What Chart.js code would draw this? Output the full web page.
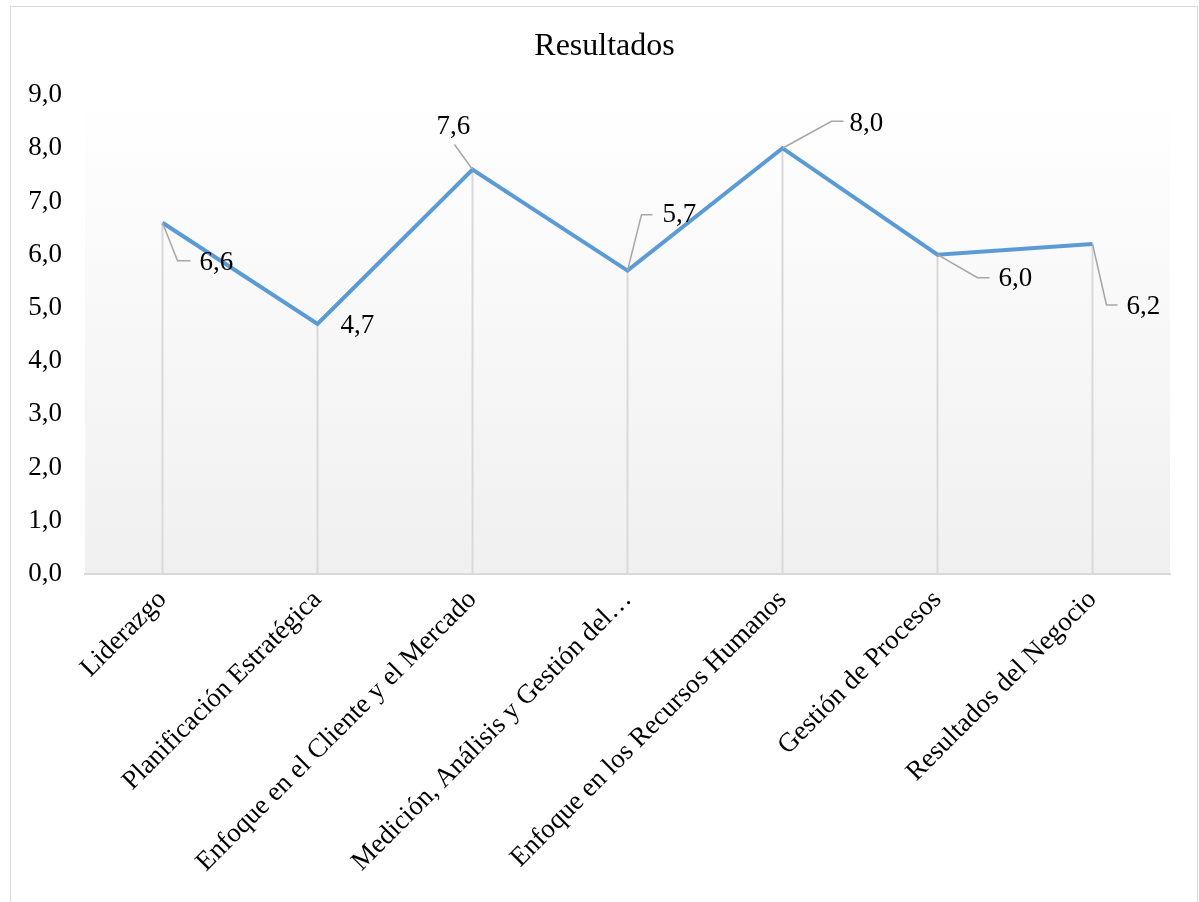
<!DOCTYPE html>
<html>
<head>
<meta charset="utf-8">
<title>Resultados</title>
<script src="https://cdn.jsdelivr.net/npm/chart.js@4.4.0/dist/chart.umd.min.js"></script>
<style>
    html, body { margin: 0; padding: 0; background: #fff; }
    #wrap { width: 1199px; height: 902px; position: relative; }
</style>
</head>
<body>
<div id="wrap"><canvas id="chart" width="1199" height="902"></canvas></div>
<script>
// --- data ---
const categories = [
    'Liderazgo',
    'Planificación Estratégica',
    'Enfoque en el Cliente y el Mercado',
    'Medición, Análisis y Gestión del…',
    'Enfoque en los Recursos Humanos',
    'Gestión de Procesos',
    'Resultados del Negocio'
];
const scores = [6.6, 4.7, 7.6, 5.7, 8.0, 6.0, 6.2];
const scoreLabels = ['6,6', '4,7', '7,6', '5,7', '8,0', '6,0', '6,2'];
const yTickLabels = ['0,0', '1,0', '2,0', '3,0', '4,0', '5,0', '6,0', '7,0', '8,0', '9,0'];

// where each data label sits, relative to its point (label = left/middle of text, leader = polyline)
const labelPlacement = [
    { label: [37, 40],  leader: [[15, 38], [28, 38]] },
    { label: [23, 2],   leader: [] },
    { label: [-36, -43], leader: [[-18, -25]] },
    { label: [35, -56], leader: [[14, -56], [25, -56]] },
    { label: [67, -24], leader: [[49, -27], [61, -27]] },
    { label: [61, 24],  leader: [[40, 23], [52, 23]] },
    { label: [34, 63],  leader: [[14, 61], [25, 61]] }
];

const SERIF = "'Liberation Serif', 'Times New Roman', serif";
const CHART_BOTTOM = 574;

// outer frame + gradient plot background
const backdrop = {
    id: 'backdrop',
    beforeDraw(chart) {
        const { ctx, chartArea: a } = chart;
        ctx.save();
        ctx.strokeStyle = '#d9d9d9';
        ctx.lineWidth = 1;
        ctx.strokeRect(10.5, 6.5, 1187, 910);
        const g = ctx.createLinearGradient(0, a.top, 0, a.bottom);
        g.addColorStop(0, '#ffffff');
        g.addColorStop(1, '#f0f0f0');
        ctx.fillStyle = g;
        ctx.fillRect(a.left, a.top, a.right - a.left, a.bottom - a.top);
        ctx.restore();
    }
};

// vertical drop lines from each point to the axis
const dropLines = {
    id: 'dropLines',
    beforeDatasetsDraw(chart) {
        const { ctx } = chart;
        const base = chart.scales.y.getPixelForValue(0);
        ctx.save();
        ctx.strokeStyle = '#d9d9d9';
        ctx.lineWidth = 2;
        chart.getDatasetMeta(0).data.forEach(p => {
            ctx.beginPath();
            ctx.moveTo(p.x, p.y);
            ctx.lineTo(p.x, base);
            ctx.stroke();
        });
        ctx.restore();
    }
};

// value labels with leader lines
const valueLabels = {
    id: 'valueLabels',
    afterDatasetsDraw(chart) {
        const { ctx } = chart;
        ctx.save();
        chart.getDatasetMeta(0).data.forEach((p, i) => {
            const pl = labelPlacement[i];
            if (pl.leader.length) {
                ctx.strokeStyle = '#a6a6a6';
                ctx.lineWidth = 1.5;
                ctx.beginPath();
                ctx.moveTo(p.x, p.y);
                pl.leader.forEach(([dx, dy]) => ctx.lineTo(p.x + dx, p.y + dy));
                ctx.stroke();
            }
            ctx.fillStyle = '#000';
            ctx.font = '27px ' + SERIF;
            ctx.textAlign = 'left';
            ctx.textBaseline = 'middle';
            ctx.fillText(scoreLabels[i], p.x + pl.label[0], p.y + pl.label[1]);
        });
        ctx.restore();
    }
};

new Chart(document.getElementById('chart'), {
    type: 'line',
    data: {
        labels: categories,
        datasets: [{
            data: scores,
            borderColor: '#5b9bd5',
            borderWidth: 4,
            pointRadius: 0,
            tension: 0,
            fill: false
        }]
    },
    options: {
        responsive: false,
        animation: false,
        devicePixelRatio: 1,
        layout: { padding: { left: 10, right: 0, top: 0, bottom: 0 } },
        plugins: {
            legend: { display: false },
            tooltip: { enabled: false },
            title: {
                display: true,
                text: 'Resultados',
                color: '#000',
                font: { family: SERIF, size: 32, weight: 'normal', lineHeight: 1.2 },
                padding: { top: 27, bottom: 29.6 }
            }
        },
        scales: {
            x: {
                offset: true,
                grid: { display: false, drawTicks: false },
                border: { color: '#d9d9d9', width: 2 },
                ticks: {
                    autoSkip: false,
                    minRotation: 45,
                    maxRotation: 45,
                    color: '#000',
                    padding: 10,
                    font: { family: SERIF, size: 27 }
                },
                afterFit: s => { s.height = 902 - CHART_BOTTOM; }
            },
            y: {
                min: 0,
                max: 9,
                grid: { display: false, drawTicks: false },
                border: { display: false },
                ticks: {
                    stepSize: 1,
                    color: '#000',
                    padding: 23,
                    font: { family: SERIF, size: 27 },
                    callback: (v, i) => yTickLabels[i]
                },
                afterFit: s => { s.width = 75; }
            },
            // empty right-hand gutter so the plot ends where the reference does
            gutter: {
                type: 'linear',
                position: 'right',
                grid: { display: false, drawTicks: false },
                border: { display: false },
                ticks: { display: false },
                afterFit: s => { s.width = 29; }
            }
        }
    },
    plugins: [backdrop, dropLines, valueLabels]
});
</script>
</body>
</html>
